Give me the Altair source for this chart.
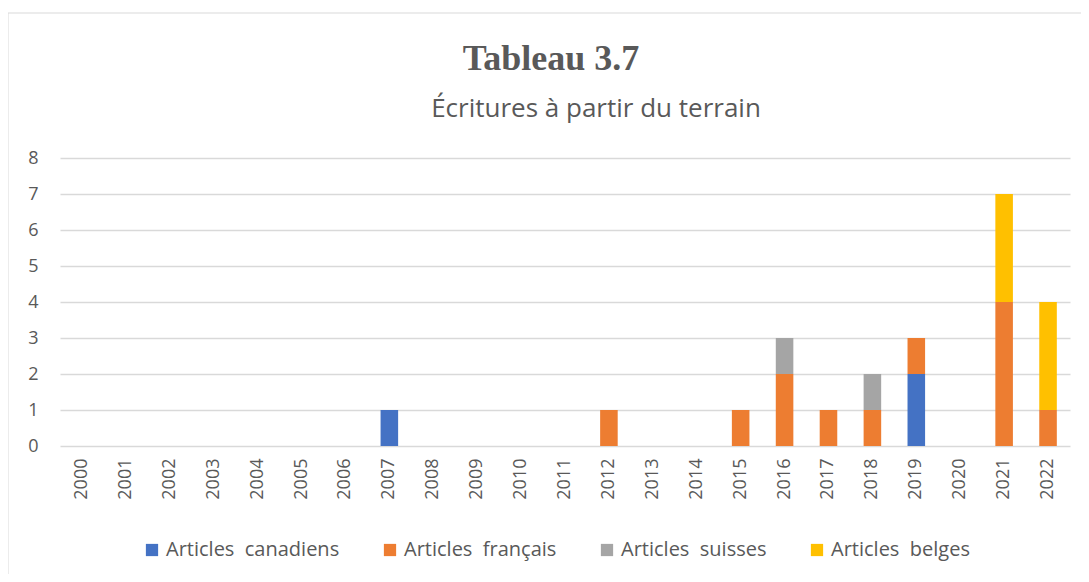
import altair as alt
import pandas as pd

years = ["2000", "2001", "2002", "2003", "2004", "2005", "2006", "2007", "2008", "2009", "2010", "2011",
         "2012", "2013", "2014", "2015", "2016", "2017", "2018", "2019", "2020", "2021", "2022"]
canadiens = [0, 0, 0, 0, 0, 0, 0, 1, 0, 0, 0, 0, 0, 0, 0, 0, 0, 0, 0, 2, 0, 0, 0]
francais = [0, 0, 0, 0, 0, 0, 0, 0, 0, 0, 0, 0, 1, 0, 0, 1, 2, 1, 1, 1, 0, 4, 1]
suisses = [0, 0, 0, 0, 0, 0, 0, 0, 0, 0, 0, 0, 0, 0, 0, 0, 1, 0, 1, 0, 0, 0, 0]
belges = [0, 0, 0, 0, 0, 0, 0, 0, 0, 0, 0, 0, 0, 0, 0, 0, 0, 0, 0, 0, 0, 3, 3]
y_ticks = [0, 1, 2, 3, 4, 5, 6, 7, 8]

series_names = ["Articles\u00a0\u00a0canadiens", "Articles\u00a0\u00a0français",
                "Articles\u00a0\u00a0suisses", "Articles\u00a0\u00a0belges"]
series_colors = ["#4472C4", "#ED7D31", "#A5A5A5", "#FFC000"]
series_values = [canadiens, francais, suisses, belges]

title_text = "Tableau 3.7"
subtitle_text = "Écritures à partir du terrain"

rows = []
for i, (name, vals) in enumerate(zip(series_names, series_values)):
    for y, v in zip(years, vals):
        rows.append({"year": y, "serie": name, "value": v, "order": i})
df = pd.DataFrame(rows)

TEXT = "#595959"

bars = alt.Chart(df).transform_filter("datum.value > 0").mark_bar().encode(
    x=alt.X("year:N", sort=years,
            scale=alt.Scale(domain=years, paddingInner=0.6, paddingOuter=0.3),
            axis=alt.Axis(title=None, labelAngle=270, labelFontSize=18, labelFont="Open Sans",
                          labelColor=TEXT, domain=False, ticks=False, labelPadding=12,
                          labelAlign="right", labelBaseline="middle")),
    y=alt.Y("value:Q", stack="zero",
            scale=alt.Scale(domain=[0, 8], nice=False),
            axis=alt.Axis(title=None, values=y_ticks,
                          labelFontSize=18, labelFont="Open Sans", labelColor=TEXT,
                          domain=False, ticks=False, labelPadding=22,
                          grid=True, gridColor="#D9D9D9", gridWidth=1.3)),
    color=alt.Color("serie:N",
                    scale=alt.Scale(domain=series_names, range=series_colors),
                    legend=alt.Legend(title=None, orient="none", direction="horizontal",
                                      legendX=82, legendY=382,
                                      symbolType="square", symbolSize=150, symbolStrokeWidth=0,
                                      labelFontSize=20, labelFont="Open Sans", labelColor=TEXT,
                                      columnPadding=40, labelOffset=4, labelLimit=400)),
    order=alt.Order("order:Q"),
)

ttl = alt.Chart(pd.DataFrame({"t": [title_text]})).mark_text(
    font="Liberation Serif", fontSize=36, fontWeight="bold", color=TEXT,
    baseline="alphabetic", align="center"
).encode(text="t:N", x=alt.value(491), y=alt.value(-88))

sub = alt.Chart(pd.DataFrame({"t": [subtitle_text]})).mark_text(
    font="Open Sans", fontSize=26, color=TEXT, baseline="alphabetic", align="center"
).encode(text="t:N", x=alt.value(536), y=alt.value(-41))

border = alt.Chart(pd.DataFrame({"b": [1]})).mark_rect(
    fill=None, stroke="#D9D9D9", strokeWidth=1
).encode(x=alt.value(-52), x2=alt.value(1040), y=alt.value(-145), y2=alt.value(460))

chart = alt.layer(border, bars, ttl, sub).properties(
    width=1010, height=288,
    background="white",
    autosize=alt.AutoSizeParams(type="none"),
    padding={"left": 52, "top": 150, "right": 11, "bottom": 128},
).configure_view(strokeWidth=0, stroke="transparent")

chart.save("out.html", embed_options={"renderer": "svg", "actions": False})
